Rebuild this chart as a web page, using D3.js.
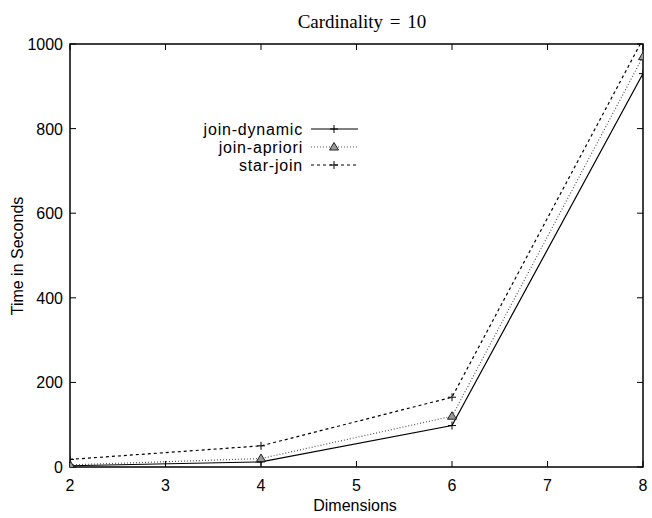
<!DOCTYPE html>
<html>
<head>
<meta charset="utf-8">
<script src="https://cdn.jsdelivr.net/npm/d3@7"></script>
<style>
  body { margin: 0; background: #fff; }
  text { font-family: 'Liberation Sans', Arial, sans-serif; }
</style>
</head>
<body>
<div id="chart"></div>
<script>
// data
let dims = [2, 4, 6, 8]
let joinDynamic = [3, 12, 98, 930]
let joinApriori = [5, 20, 120, 970]
let starJoin = [18, 50, 165, 1012]
let seriesNames = ['join-dynamic', 'join-apriori', 'star-join']
let xTicks = [2, 3, 4, 5, 6, 7, 8]
let yTicks = [0, 200, 400, 600, 800, 1000]

let width = 652, height = 518
let margin = {left: 70, right: 9, top: 44, bottom: 51}

let svg = d3.select('#chart').append('svg')
    .attr('width', width)
    .attr('height', height)

let x = d3.scaleLinear().domain([2, 8]).range([margin.left, width - margin.right])
let y = d3.scaleLinear().domain([0, 1000]).range([height - margin.bottom, margin.top])

let plotW = width - margin.left - margin.right
let plotH = height - margin.top - margin.bottom

svg.append('clipPath').attr('id', 'clip')
  .append('rect')
    .attr('x', margin.left).attr('y', margin.top)
    .attr('width', plotW).attr('height', plotH)

// ticks, mirrored like gnuplot
let tickLen = 6
let ticks = svg.append('g')
xTicks.forEach(t => {
    ticks.append('line').attr('x1', x(t)).attr('x2', x(t))
        .attr('y1', y(0)).attr('y2', y(0) - tickLen)
    ticks.append('line').attr('x1', x(t)).attr('x2', x(t))
        .attr('y1', y(1000)).attr('y2', y(1000) + tickLen)
    svg.append('text')
        .attr('x', x(t)).attr('y', y(0) + 24)
        .attr('text-anchor', 'middle')
        .style('font-size', '16px')
        .text(t)
})
yTicks.forEach(t => {
    ticks.append('line').attr('x1', x(2)).attr('x2', x(2) + tickLen)
        .attr('y1', y(t)).attr('y2', y(t))
    ticks.append('line').attr('x1', x(8)).attr('x2', x(8) - tickLen)
        .attr('y1', y(t)).attr('y2', y(t))
    svg.append('text')
        .attr('x', x(2) - 7).attr('y', y(t) + 6)
        .attr('text-anchor', 'end')
        .style('font-size', '16px')
        .text(t)
})
ticks.selectAll('line').attr('stroke', 'black').attr('stroke-width', 1)

svg.append('rect')
    .attr('x', margin.left).attr('y', margin.top)
    .attr('width', plotW).attr('height', plotH)
    .attr('fill', 'none')
    .attr('stroke', 'black')
    .attr('stroke-width', 1.5)

// title and axis labels
svg.append('text')
    .attr('x', 362).attr('y', 28)
    .attr('text-anchor', 'middle')
    .style('font-family', "'Liberation Serif', 'DejaVu Serif', serif")
    .style('font-size', '19px')
    .style('word-spacing', '2px')
    .text('Cardinality = 10')

svg.append('text')
    .attr('x', 355).attr('y', 511)
    .attr('text-anchor', 'middle')
    .style('font-size', '16px')
    .text('Dimensions')

svg.append('text')
    .attr('transform', 'translate (23, 256) rotate(-90)')
    .attr('text-anchor', 'middle')
    .style('font-size', '16px')
    .text('Time in Seconds')

let series = [
    {name: seriesNames[0], values: joinDynamic, dash: null, color: '#000', mark: 'plus'},
    {name: seriesNames[1], values: joinApriori, dash: '1,2', color: '#555', mark: 'tri'},
    {name: seriesNames[2], values: starJoin, dash: '3,3', color: '#000', mark: 'plus'}
]

let line = d3.line().x(d => x(d[0])).y(d => y(d[1]))
let plotG = svg.append('g').attr('clip-path', 'url(#clip)')

function drawMark (g, mark, cx, cy, color) {
    if (mark === 'plus') {
        g.append('path')
            .attr('d', `M${cx - 4},${cy}H${cx + 4}M${cx},${cy - 4}V${cy + 4}`)
            .attr('stroke', '#000').attr('stroke-width', 1).attr('fill', 'none')
    } else {
        g.append('path')
            .attr('d', `M${cx},${cy - 4.5}L${cx + 4.5},${cy + 3}L${cx - 4.5},${cy + 3}Z`)
            .attr('stroke', '#222').attr('stroke-width', 1).attr('fill', '#999')
    }
}

series.forEach(s => {
    let pts = dims.map((d, i) => [d, s.values[i]])
    plotG.append('path')
        .attr('d', line(pts))
        .attr('fill', 'none')
        .attr('stroke', s.color)
        .attr('stroke-width', 1.2)
        .attr('stroke-dasharray', s.dash)
    pts.forEach(p => drawMark(plotG, s.mark, x(p[0]), y(p[1]), s.color))
})

// legend
let legend = svg.append('g').attr('transform', 'translate (0, 129)')
series.forEach((s, i) => {
    let ly = i * 18
    legend.append('text')
        .attr('x', 303).attr('y', ly + 6)
        .attr('text-anchor', 'end')
        .style('font-size', '16px')
        .style('letter-spacing', '0.8px')
        .text(s.name)
    legend.append('line')
        .attr('x1', 311).attr('x2', 358)
        .attr('y1', ly).attr('y2', ly)
        .attr('stroke', s.color)
        .attr('stroke-width', 1.2)
        .attr('stroke-dasharray', s.dash)
    drawMark(legend, s.mark, 334, ly, s.color)
})
</script>
</body>
</html>
